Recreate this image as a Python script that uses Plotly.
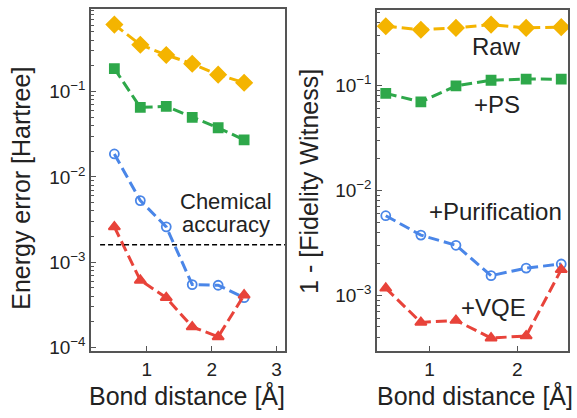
import plotly.graph_objects as go

bond = [0.5, 0.9, 1.3, 1.7, 2.1, 2.5]

# Left panel: energy error [Hartree]
e_raw = [0.61, 0.354, 0.269, 0.212, 0.158, 0.127]
e_ps = [0.186, 0.0653, 0.0672, 0.050, 0.0377, 0.0272]
e_pur = [0.0186, 0.00528, 0.0026, 0.000548, 0.000538, 0.000385]
e_vqe = [0.0026, 0.000615, 0.000385, 0.000175, 0.000134, 0.000413]
chem_acc = 0.0016
chem_x = [0.28, 3.13]

# Right panel: 1 - fidelity witness
f_raw = [0.366, 0.339, 0.353, 0.380, 0.353, 0.359]
f_ps = [0.0840, 0.0697, 0.0990, 0.112, 0.115, 0.1146]
f_pur = [0.00574, 0.00375, 0.0030, 0.00154, 0.00182, 0.00199]
f_vqe = [0.00117, 0.000553, 0.000578, 0.000392, 0.000411, 0.00176]

left_ticks = [1e-4, 1e-3, 1e-2, 1e-1]
left_ticktext = ["10<sup>−4</sup>", "10<sup>−3</sup>", "10<sup>−2</sup>", "10<sup>−1</sup>"]
right_ticks = [1e-3, 1e-2, 1e-1]
right_ticktext = ["10<sup>−3</sup>", "10<sup>−2</sup>", "10<sup>−1</sup>"]

names = ["Raw", "+PS", "+Purification", "+VQE"]
colors = ["#F4B400", "#2EA84A", "#4A86E8", "#E8433A"]
symbols = ["diamond", "square", "circle-open", "triangle-up"]
msizes = [12, 9, 9, 10]

minor_vals = [m * 10.0 ** e for e in range(-5, 1) for m in range(2, 10)]

FONT = "Liberation Sans, Arial, sans-serif"
fig = go.Figure()

left = [e_raw, e_ps, e_pur, e_vqe]
right = [f_raw, f_ps, f_pur, f_vqe]
for i in range(4):
    for data, xa, ya in [(left[i], "x", "y"), (right[i], "x2", "y2")]:
        fig.add_trace(go.Scatter(
            x=bond, y=data, xaxis=xa, yaxis=ya, mode="lines+markers",
            line=dict(color=colors[i], width=3, dash="11px,5px"),
            marker=dict(symbol=symbols[i], size=msizes[i], color=colors[i],
                        line=dict(color=colors[i], width=1.8)),
            showlegend=False, name=names[i]))

fig.add_trace(go.Scatter(x=chem_x, y=[chem_acc, chem_acc], xaxis="x", yaxis="y",
                         mode="lines", line=dict(color="black", width=1.5, dash="5px,3px"),
                         showlegend=False))

axis_common = dict(showline=True, linecolor="#555", linewidth=1.5, mirror=True,
                   ticks="inside", ticklen=5, tickcolor="#555", showgrid=False,
                   zeroline=False, tickfont=dict(size=19, color="#222", family=FONT))
minor = dict(ticks="inside", ticklen=3, tickcolor="#555", showgrid=False,
             tickmode="array", tickvals=minor_vals)

fig.update_layout(
    width=577, height=418, margin=dict(l=0, r=0, t=0, b=0),
    plot_bgcolor="white", paper_bgcolor="white",
    font=dict(family=FONT, color="#222"),
    xaxis=dict(domain=[91/577, 285/577], range=[0.14, 3.13], tickvals=[1, 2, 3],
               anchor="y", **axis_common),
    yaxis=dict(domain=[1-357/418, 1-9/418], type="log", range=[-4.04, -0.03],
               tickmode="array", tickvals=left_ticks, ticktext=left_ticktext,
               minor=minor, anchor="x", **axis_common),
    xaxis2=dict(domain=[377/577, 568/577], range=[0.40, 2.577], tickvals=[1, 2],
                anchor="y2", **axis_common),
    yaxis2=dict(domain=[1-357/418, 1-10/418], type="log", range=[-3.53, -0.28],
                tickmode="array", tickvals=right_ticks, ticktext=right_ticktext,
                minor=minor, anchor="x2", **axis_common),
)

ann = []
def add(text, x, y, size, angle=0):
    ann.append(dict(text=text, x=x/577, y=1-y/418, xref="paper", yref="paper",
                    showarrow=False, textangle=angle, xanchor="center", yanchor="middle",
                    font=dict(size=size, family=FONT, color="#222")))

add("Energy error [Hartree]", 21, 192, 25, -90)
add("1 - [Fidelity Witness]", 309, 185, 25, -90)
add("Bond distance [Å]", 187, 402, 25)
add("Bond distance [Å]", 475, 402, 25)
add("Chemical", 226, 205, 22)
add("accuracy", 226, 228, 22)
add("Raw", 497, 47, 24)
add("+PS", 497, 106, 24)
add("+Purification", 495, 215, 24)
add("+VQE", 493, 313, 24)
fig.update_layout(annotations=ann)

fig.write_html("out.html")
